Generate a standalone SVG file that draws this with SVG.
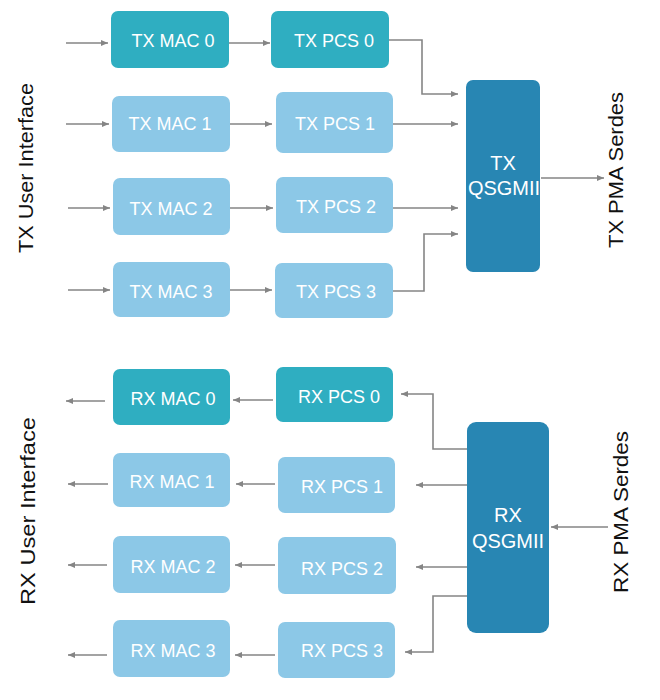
<svg xmlns="http://www.w3.org/2000/svg" width="660" height="700" viewBox="0 0 660 700">
<defs>
<marker id="ah" markerUnits="userSpaceOnUse" markerWidth="7" markerHeight="6" refX="7" refY="3" orient="auto">
<path d="M0,0 L7,3 L0,6 z" fill="#858585"/>
</marker>
<style>
.dk{fill:#2FAEC1}
.lt{fill:#8CC8E7}
.q{fill:#2886B3}
.bt{font-family:"Liberation Sans",Arial,sans-serif;font-size:18px;fill:#ffffff;text-anchor:middle}
.qt{font-family:"Liberation Sans",Arial,sans-serif;font-size:20px;fill:#ffffff;text-anchor:middle}
.side{font-family:"Liberation Sans",Arial,sans-serif;font-size:21px;fill:#111111;text-anchor:middle}
.c{fill:none;stroke:#858585;stroke-width:1.6;marker-end:url(#ah)}
</style>
</defs>
<rect width="660" height="700" fill="#ffffff"/>

<g id="tx-user-interface"><text class="side" transform="translate(33,168) rotate(-90)" textLength="170" lengthAdjust="spacingAndGlyphs">TX User Interface</text></g>
<g id="rx-user-interface"><text class="side" transform="translate(35,511) rotate(-90)" textLength="188" lengthAdjust="spacingAndGlyphs">RX User Interface</text></g>
<g id="tx-pma-serdes"><text class="side" transform="translate(623,170) rotate(-90)" textLength="156" lengthAdjust="spacingAndGlyphs">TX PMA Serdes</text></g>
<g id="rx-pma-serdes"><text class="side" transform="translate(628,512) rotate(-90)" textLength="162" lengthAdjust="spacingAndGlyphs">RX PMA Serdes</text></g>

<g id="tx-mac-0"><rect class="dk" x="111" y="11" width="118" height="57" rx="7"/><text class="bt" x="173" y="47">TX MAC 0</text></g>
<g id="tx-pcs-0"><rect class="dk" x="271" y="11" width="118" height="57" rx="7"/><text class="bt" x="334" y="47">TX PCS 0</text></g>
<g id="tx-mac-1"><rect class="lt" x="112" y="96" width="118" height="56" rx="7"/><text class="bt" x="170" y="130">TX MAC 1</text></g>
<g id="tx-pcs-1"><rect class="lt" x="276" y="92" width="117" height="61" rx="7"/><text class="bt" x="335" y="130">TX PCS 1</text></g>
<g id="tx-mac-2"><rect class="lt" x="113" y="178" width="117" height="57" rx="7"/><text class="bt" x="171" y="215">TX MAC 2</text></g>
<g id="tx-pcs-2"><rect class="lt" x="276" y="177" width="117" height="56" rx="7"/><text class="bt" x="336" y="213">TX PCS 2</text></g>
<g id="tx-mac-3"><rect class="lt" x="113" y="262" width="117" height="55" rx="7"/><text class="bt" x="171" y="298">TX MAC 3</text></g>
<g id="tx-pcs-3"><rect class="lt" x="275" y="263" width="118" height="55" rx="7"/><text class="bt" x="336" y="298">TX PCS 3</text></g>

<g id="tx-qsgmii"><rect class="q" x="466" y="80" width="74" height="192" rx="7"/><text class="qt" x="503" y="170">TX</text><text class="qt" x="504" y="195">QSGMII</text></g>

<g id="rx-mac-0"><rect class="dk" x="113" y="369" width="117" height="56" rx="7"/><text class="bt" x="173" y="405">RX MAC 0</text></g>
<g id="rx-pcs-0"><rect class="dk" x="276" y="367" width="117" height="55" rx="7"/><text class="bt" x="339" y="403">RX PCS 0</text></g>
<g id="rx-mac-1"><rect class="lt" x="113" y="453" width="117" height="54" rx="7"/><text class="bt" x="172" y="488">RX MAC 1</text></g>
<g id="rx-pcs-1"><rect class="lt" x="278" y="457" width="117" height="56" rx="7"/><text class="bt" x="342" y="493">RX PCS 1</text></g>
<g id="rx-mac-2"><rect class="lt" x="113" y="536" width="117" height="57" rx="7"/><text class="bt" x="173" y="573">RX MAC 2</text></g>
<g id="rx-pcs-2"><rect class="lt" x="278" y="537" width="118" height="57" rx="7"/><text class="bt" x="342" y="575">RX PCS 2</text></g>
<g id="rx-mac-3"><rect class="lt" x="113" y="620" width="117" height="57" rx="7"/><text class="bt" x="173" y="657">RX MAC 3</text></g>
<g id="rx-pcs-3"><rect class="lt" x="278" y="622" width="117" height="56" rx="7"/><text class="bt" x="342" y="657">RX PCS 3</text></g>

<g id="rx-qsgmii"><rect class="q" x="467" y="422" width="82" height="211" rx="9"/><text class="qt" x="508" y="522">RX</text><text class="qt" x="508" y="548">QSGMII</text></g>

<g id="connectors">
<path class="c" d="M66,43 H108"/>
<path class="c" d="M229,43 H270"/>
<path class="c" d="M66,124 H109"/>
<path class="c" d="M230,124 H272"/>
<path class="c" d="M68,208 H110"/>
<path class="c" d="M230,208 H273"/>
<path class="c" d="M68,290 H110"/>
<path class="c" d="M230,290 H272"/>
<path class="c" d="M389,40 H422 V94 H458"/>
<path class="c" d="M393,124 H458"/>
<path class="c" d="M393,208 H458"/>
<path class="c" d="M393,291 H424 V234 H458"/>
<path class="c" d="M541,178 H604"/>
<path class="c" d="M105,401 H66"/>
<path class="c" d="M273,400 H233"/>
<path class="c" d="M108,484 H68"/>
<path class="c" d="M275,484 H236"/>
<path class="c" d="M107,565 H68"/>
<path class="c" d="M275,565 H235"/>
<path class="c" d="M107,655 H68"/>
<path class="c" d="M275,655 H235"/>
<path class="c" d="M467,449 H433 V394 H401"/>
<path class="c" d="M467,485 H416"/>
<path class="c" d="M467,567 H416"/>
<path class="c" d="M467,596 H433 V652 H405"/>
<path class="c" d="M608,527 H551"/>
</g>
</svg>
